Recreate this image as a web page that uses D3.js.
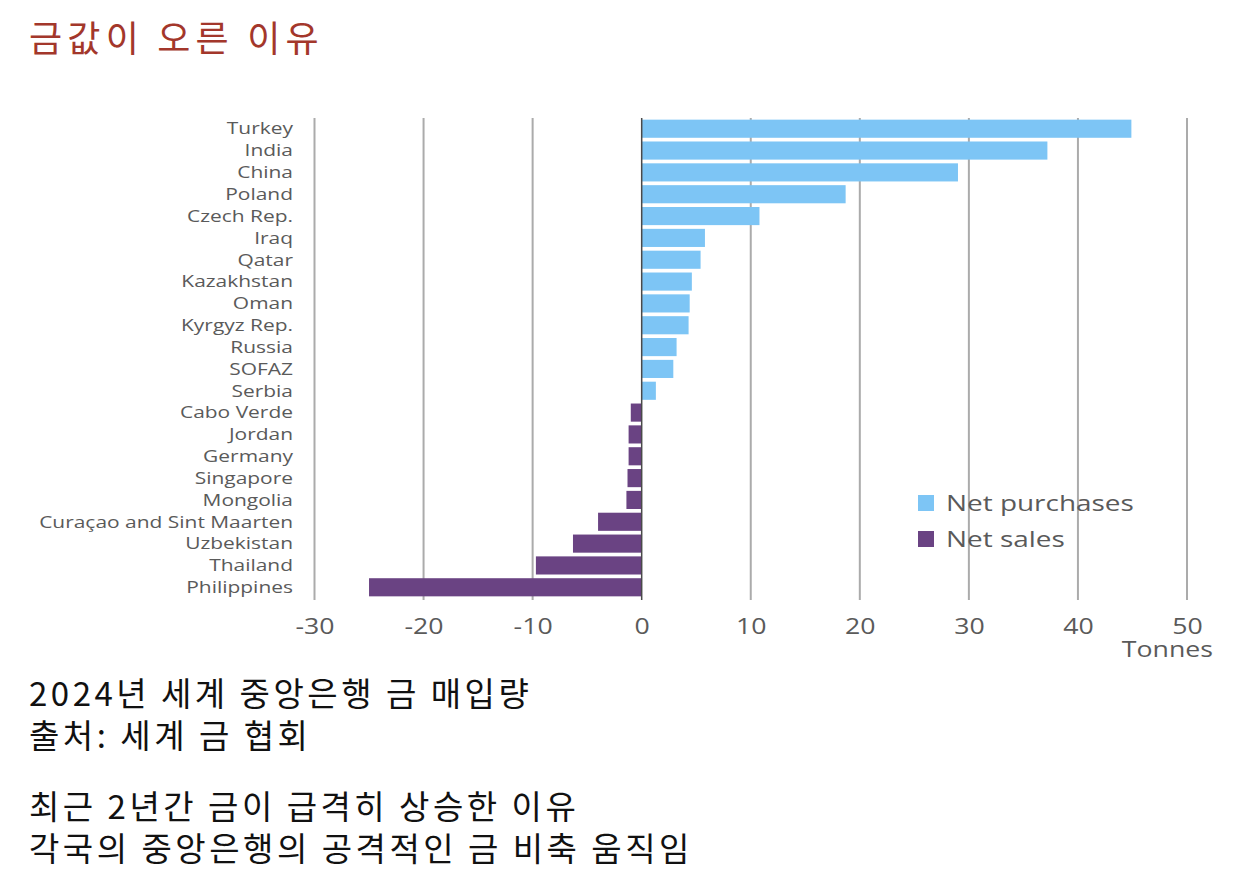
<!DOCTYPE html>
<html>
<head>
<meta charset="utf-8">
<script src="https://cdn.jsdelivr.net/npm/d3@7"></script>
<style>
  body { margin: 0; background: #fff; }
  svg { display: block; }
</style>
</head>
<body>
<svg id="chart" width="1259" height="892"></svg>
<script>
// central bank net gold purchases, 2024 (tonnes)
var countries = ['Turkey', 'India', 'China', 'Poland', 'Czech Rep.', 'Iraq', 'Qatar',
  'Kazakhstan', 'Oman', 'Kyrgyz Rep.', 'Russia', 'SOFAZ', 'Serbia', 'Cabo Verde',
  'Jordan', 'Germany', 'Singapore', 'Mongolia', 'Curaçao and Sint Maarten',
  'Uzbekistan', 'Thailand', 'Philippines']
var tonnes = [44.9, 37.2, 29.0, 18.7, 10.8, 5.8, 5.4, 4.6, 4.4, 4.3, 3.2, 2.9, 1.3,
  -1.0, -1.2, -1.2, -1.3, -1.4, -4.0, -6.3, -9.7, -25.0]
var xTicks = [-30, -20, -10, 0, 10, 20, 30, 40, 50]
var legendLabels = ['Net purchases', 'Net sales']

var title = '금값이 오른 이유'
var notesTop = ['2024년 세계 중앙은행 금 매입량', '출처: 세계 금 협회']
var notesBottom = ['최근 2년간 금이 급격히 상승한 이유', '각국의 중앙은행의 공격적인 금 비축 움직임']

var colBuy = '#7dc5f5'
var colSell = '#6a4383'
var textCol = '#5a5a5a'
var krFont = '"Noto Sans CJK KR", "Noto Sans", sans-serif'
var latFont = '"Open Sans", "Noto Sans", sans-serif'
var stretch = 1.27 // latin text in the source is widened

var svg = d3.select('#chart')
var data = countries.map((c, i) => ({ name: c, value: tonnes[i] }))

var x = d3.scaleLinear().domain([-30, 50]).range([314.5, 1187])
var y = d3.scaleBand().domain(countries).range([119, 597]).paddingInner(0.17).paddingOuter(0.03)

/*
    title
*/
svg.append('text')
  .attr('x', 29)
  .attr('y', 52)
  .style('font-family', krFont)
  .style('font-size', '36px')
  .style('letter-spacing', '5.2px')
  .style('fill', '#a3372b')
  .text(title)

/*
    grid + axis
*/
var grid = svg.append('g')
grid.selectAll('line')
  .data(xTicks.filter(d => d !== 0))
  .enter().append('line')
  .attr('x1', d => x(d)).attr('x2', d => x(d))
  .attr('y1', 118).attr('y2', 600)
  .style('stroke', '#ababab')
  .style('stroke-width', 2)

var axis = svg.append('g')
  .attr('transform', 'translate(0,600)')
  .call(d3.axisBottom(x).tickValues(xTicks).tickSize(0).tickPadding(19).tickFormat(d => String(d)))
axis.select('.domain').remove()
axis.selectAll('text')
  .attr('transform', `scale(${stretch},1)`)
  .style('font-family', latFont)
  .style('font-size', '21px')
  .style('fill', textCol)

svg.append('text')
  .attr('transform', `translate(1213,657) scale(${stretch},1)`)
  .attr('text-anchor', 'end')
  .style('font-family', latFont)
  .style('font-size', '21px')
  .style('fill', textCol)
  .text('Tonnes')

/*
    bars
*/
svg.append('g').selectAll('rect')
  .data(data)
  .enter().append('rect')
  .attr('x', d => x(Math.min(0, d.value)))
  .attr('width', d => Math.abs(x(d.value) - x(0)))
  .attr('y', d => y(d.name))
  .attr('height', y.bandwidth())
  .style('fill', d => d.value >= 0 ? colBuy : colSell)

svg.append('line')
  .attr('x1', x(0)).attr('x2', x(0))
  .attr('y1', 118).attr('y2', 600)
  .style('stroke', '#4a4a4a')
  .style('stroke-width', 1.5)

svg.append('g').selectAll('text')
  .data(data)
  .enter().append('text')
  .attr('transform', d => `translate(293,${y(d.name) + y.bandwidth() / 2}) scale(${stretch},1)`)
  .attr('dy', '0.35em')
  .attr('text-anchor', 'end')
  .style('font-family', latFont)
  .style('font-size', '16.5px')
  .style('fill', textCol)
  .text(d => d.name)

/*
    legend
*/
var legend = svg.append('g').selectAll('g')
  .data(legendLabels)
  .enter().append('g')
  .attr('transform', (d, i) => `translate(918,${495 + i * 36})`)
legend.append('rect')
  .attr('width', 16).attr('height', 16)
  .style('fill', (d, i) => i === 0 ? colBuy : colSell)
legend.append('text')
  .attr('transform', `translate(28,8) scale(${stretch},1)`)
  .attr('dy', '0.35em')
  .style('font-family', latFont)
  .style('font-size', '22px')
  .style('fill', textCol)
  .text(d => d)

/*
    notes
*/
function notes (lines, top) {
  svg.append('g').selectAll('text')
    .data(lines)
    .enter().append('text')
    .attr('x', 29)
    .attr('y', (d, i) => top + i * 42)
    .style('font-family', krFont)
    .style('font-size', '33px')
    .style('letter-spacing', '3.5px')
    .style('fill', '#111')
    .text(d => d)
}
notes(notesTop, 706)
notes(notesBottom, 819)
</script>
</body>
</html>
